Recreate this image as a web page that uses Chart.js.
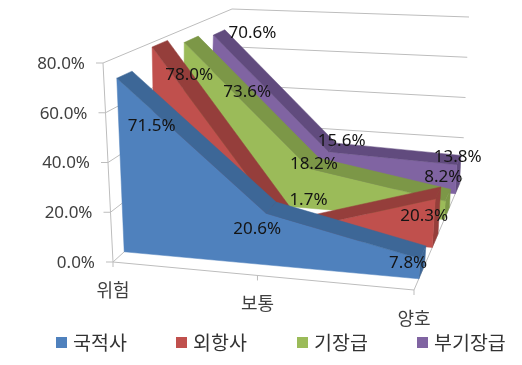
<!DOCTYPE html>
<html>
<head>
<meta charset="utf-8">
<script src="https://cdn.jsdelivr.net/npm/chart.js@4"></script>
<style>
html, body { margin: 0; padding: 0; background: #fff; }
#grafico { display: block; }
</style>
</head>
<body>
<canvas id="grafico" width="522" height="365"></canvas>
<script>
const categorias = ['위험', '보통', '양호'];
const nombres = ['국적사', '외항사', '기장급', '부기장급'];
const kukjeok = [71.5, 20.6, 7.8];
const oehang = [78.0, 1.7, 20.3];
const gijang = [73.6, 18.2, 8.2];
const bugijang = [70.6, 15.6, 13.8];
const yTicks = [0, 20, 40, 60, 80];

const colores = ['#4F81BD', '#C0504D', '#9BBB59', '#8064A2'];
const oscuros = ['#3D6797', '#953E3B', '#7C9747', '#614B7E'];
// depth band of each series inside the box, 0 = front, 1 = back
const bandas = [[0.1, 0.22], [0.38, 0.5], [0.63, 0.74], [0.86, 0.95]];
// label shift from the front top corner of each point
const ajustes = [
    [[35, 48], [-9, 16], [-12, 4]],
    [[37, 28], [20, -31], [-11, 17]],
    [[63, 50], [4, -4], [-2, -24]],
    [[39, -2], [13, -11], [1, -8]]
];

// corners of the 3d box on the page
const caja = {
    flb: [113, 262], frb: [414, 290], blb: [225, 160], brb: [462, 178],
    flt: [103, 63], frt: [429, 80], blt: [232, 9], brt: [469, 17]
};
// left edge of each legend entry, the native legend wraps at this spacing
const leyendaX = [56, 176, 297, 417];
const leyendaY = 343;

function mezcla(a, b, t) {
    return [a[0] + (b[0] - a[0]) * t, a[1] + (b[1] - a[1]) * t];
}

function proyectar(c, v, d) {
    const abajo = mezcla(mezcla(caja.flb, caja.frb, c), mezcla(caja.blb, caja.brb, c), d);
    const arriba = mezcla(mezcla(caja.flt, caja.frt, c), mezcla(caja.blt, caja.brt, c), d);
    return mezcla(abajo, arriba, v);
}

function poligono(ctx, puntos, color) {
    ctx.beginPath();
    puntos.forEach(function (p, i) {
        if (i == 0) ctx.moveTo(p[0], p[1]);
        else ctx.lineTo(p[0], p[1]);
    });
    ctx.closePath();
    ctx.fillStyle = color;
    ctx.fill();
    ctx.strokeStyle = color;
    ctx.lineWidth = 0.5;
    ctx.stroke();
}

function linea(ctx, a, b) {
    ctx.beginPath();
    ctx.moveTo(a[0], a[1]);
    ctx.lineTo(b[0], b[1]);
    ctx.stroke();
}

const area3d = {
    id: 'area3d',
    afterDatasetsDraw: function (chart) {
        const ctx = chart.ctx;
        const xs = chart.scales.x;
        const ys = chart.scales.y;
        const area = chart.chartArea;

        // category position with a little perspective, right side is nearer
        const posC = function (i) {
            const t = (xs.getPixelForValue(i) - area.left) / area.width;
            return t * 0.923 / (1 - 0.077 * t);
        };
        const posV = function (val) {
            return (area.bottom - ys.getPixelForValue(val)) / area.height;
        };

        ctx.save();

        // walls and floor
        ctx.strokeStyle = '#BDBDBD';
        ctx.lineWidth = 1;
        ctx.fillStyle = '#404040';
        ctx.font = "17px 'Noto Sans', 'Noto Sans CJK KR'";
        ctx.textBaseline = 'middle';
        yTicks.forEach(function (t) {
            const v = posV(t);
            const f = proyectar(0, v, 0);
            const bl = proyectar(0, v, 1);
            const br = proyectar(1, v, 1);
            linea(ctx, f, bl);
            if (t > 0) linea(ctx, bl, br);
            linea(ctx, [f[0] - 7, f[1]], f);
            ctx.textAlign = 'right';
            ctx.fillText(t.toFixed(1) + '%', f[0] - 18, f[1] + 1);
        });
        linea(ctx, proyectar(0, 0, 0), proyectar(0, 1, 0));
        linea(ctx, proyectar(0, 0, 0), proyectar(1, 0, 0));
        linea(ctx, proyectar(1, 0, 0), proyectar(1, 0, 1));
        ctx.textAlign = 'center';
        ctx.font = "18px 'Noto Sans CJK KR', 'Noto Sans'";
        categorias.forEach(function (nom, i) {
            const p = proyectar(posC(i), 0, 0);
            linea(ctx, p, [p[0], p[1] + 5]);
            ctx.fillText(nom, p[0], p[1] + 28);
        });

        // back series first so the front ones cover them
        for (let s = chart.data.datasets.length - 1; s >= 0; s--) {
            const vals = chart.data.datasets[s].data;
            const d0 = bandas[s][0];
            const d1 = bandas[s][1];
            const ult = vals.length - 1;

            const frente = [proyectar(posC(0), 0, d0)];
            vals.forEach(function (val, i) {
                frente.push(proyectar(posC(i), posV(val), d0));
            });
            frente.push(proyectar(posC(ult), 0, d0));

            // right end of the slab
            poligono(ctx, [
                proyectar(posC(ult), 0, d0), proyectar(posC(ult), posV(vals[ult]), d0),
                proyectar(posC(ult), posV(vals[ult]), d1), proyectar(posC(ult), 0, d1)
            ], oscuros[s]);
            // left end is hidden, only front and top surfaces are left
            poligono(ctx, frente, colores[s]);
            for (let i = 0; i < ult; i++) {
                poligono(ctx, [
                    proyectar(posC(i), posV(vals[i]), d0), proyectar(posC(i + 1), posV(vals[i + 1]), d0),
                    proyectar(posC(i + 1), posV(vals[i + 1]), d1), proyectar(posC(i), posV(vals[i]), d1)
                ], oscuros[s]);
            }
        }

        // data labels on top of everything
        ctx.fillStyle = '#141414';
        ctx.textAlign = 'center';
        ctx.font = "17px 'Noto Sans', 'Noto Sans CJK KR'";
        chart.data.datasets.forEach(function (ds, s) {
            ds.data.forEach(function (val, i) {
                const p = proyectar(posC(i), posV(val), bandas[s][0]);
                ctx.fillText(val.toFixed(1) + '%', p[0] + ajustes[s][i][0], p[1] + ajustes[s][i][1]);
            });
        });

        // legend
        ctx.textAlign = 'left';
        ctx.font = "19.5px 'Noto Sans CJK KR', 'Noto Sans'";
        chart.data.datasets.forEach(function (ds, s) {
            ctx.fillStyle = ds.backgroundColor;
            ctx.fillRect(leyendaX[s], leyendaY - 6, 11, 11);
            ctx.fillStyle = '#333333';
            ctx.fillText(ds.label, leyendaX[s] + 17, leyendaY);
        });

        ctx.restore();
    }
};

const series = [kukjeok, oehang, gijang, bugijang];

new Chart(document.getElementById('grafico'), {
    type: 'line',
    data: {
        labels: categorias,
        datasets: series.map(function (vals, i) {
            return {
                label: nombres[i],
                data: vals,
                backgroundColor: colores[i],
                borderColor: colores[i],
                borderWidth: 0,
                showLine: false,
                pointRadius: 0
            };
        })
    },
    options: {
        responsive: false,
        animation: false,
        scales: {
            x: { display: false, offset: false },
            y: { display: false, min: 0, max: 80 }
        },
        plugins: {
            tooltip: { enabled: false },
            legend: { display: false }
        }
    },
    plugins: [area3d]
});
</script>
</body>
</html>
